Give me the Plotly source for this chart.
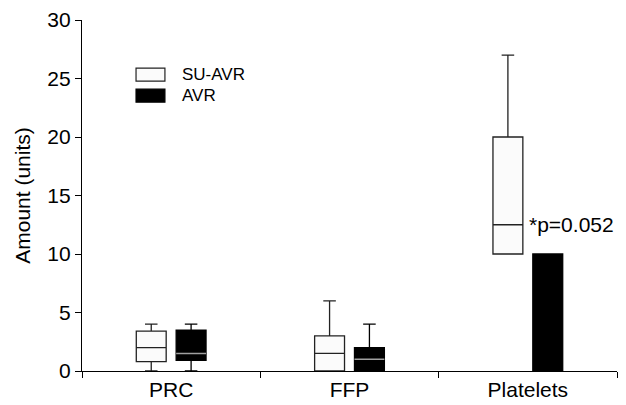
import plotly.graph_objects as go

categories = ["PRC", "FFP", "Platelets"]

# SU-AVR box statistics
su_low = [0, 0, 10]
su_q1 = [0.8, 0, 10]
su_med = [2, 1.5, 12.5]
su_q3 = [3.4, 3, 20]
su_up = [4, 6, 27]

# AVR box statistics
avr_low = [0, 0, 0]
avr_q1 = [0.9, 0, 0]
avr_med = [1.5, 1, 10]
avr_q3 = [3.5, 2, 10]
avr_up = [4, 4, 10]

y_ticks = [0, 5, 10, 15, 20, 25, 30]
p_text = "*p=0.052"

FONT = "Liberation Sans, Arial, sans-serif"

fig = go.Figure()

fig.add_trace(go.Box(
    name="SU-AVR", x=categories, q1=su_q1, median=su_med, q3=su_q3,
    lowerfence=su_low, upperfence=su_up, offsetgroup="su",
    fillcolor="#fbfbfb", line=dict(color="#222222", width=1.3),
    whiskerwidth=0.42, boxpoints=False, hoverinfo="skip", showlegend=False,
))
fig.add_trace(go.Box(
    name="AVR", x=categories, q1=avr_q1, median=avr_med, q3=avr_q3,
    lowerfence=avr_low, upperfence=avr_up, offsetgroup="avr",
    fillcolor="#000000", line=dict(color="#000000", width=1.3),
    whiskerwidth=0.42, boxpoints=False, hoverinfo="skip", showlegend=False,
))

# light median lines inside the black AVR boxes (only where median lies inside the box)
mc, mv = [], []
for c, a, m, b in zip(categories, avr_q1, avr_med, avr_q3):
    if a < m < b:
        mc.append(c)
        mv.append(m)
fig.add_trace(go.Box(
    name="AVR median", x=mc, q1=mv, median=mv, q3=mv, lowerfence=mv, upperfence=mv,
    offsetgroup="avr", fillcolor="rgba(0,0,0,0)", line=dict(color="#a0a0a0", width=1.6),
    whiskerwidth=0, boxpoints=False, hoverinfo="skip", showlegend=False,
))

# annotation at the SU-AVR platelets median
fig.add_annotation(x=categories[2], y=su_med[2], text=p_text, showarrow=False,
                   xanchor="left", yanchor="middle", xshift=-1,
                   font=dict(family=FONT, size=21, color="black"))

# manual legend
x0, x1 = 0.101, 0.155
fig.add_shape(type="rect", xref="paper", yref="paper", x0=x0, x1=x1, y0=0.826, y1=0.863,
              fillcolor="#fbfbfb", line=dict(color="#222222", width=1.2))
fig.add_shape(type="rect", xref="paper", yref="paper", x0=x0, x1=x1, y0=0.766, y1=0.803,
              fillcolor="#000000", line=dict(color="#000000", width=1.2))
fig.add_annotation(xref="paper", yref="paper", x=0.183, y=0.845, text="SU-AVR",
                   showarrow=False, xanchor="left", yanchor="middle",
                   font=dict(family=FONT, size=17, color="black"))
fig.add_annotation(xref="paper", yref="paper", x=0.183, y=0.785, text="AVR",
                   showarrow=False, xanchor="left", yanchor="middle",
                   font=dict(family=FONT, size=17, color="black"))

# the page body adds an 8px margin, so the figure is 8px smaller and top/left margins shifted
fig.update_layout(
    width=618, height=397,
    margin=dict(l=74, r=9, t=12, b=34),
    paper_bgcolor="white", plot_bgcolor="white",
    boxmode="group", boxgap=0.553, boxgroupgap=0.25,
    font=dict(family=FONT, size=21, color="black"),
    showlegend=False,
)
fig.update_xaxes(
    type="category", categoryorder="array", categoryarray=categories,
    range=[-0.5, 2.5], showline=True, linecolor="black", linewidth=1.3,
    ticks="outside", tickson="boundaries", ticklen=6, tickcolor="black", tickwidth=1.3,
    showgrid=False, zeroline=False, tickfont=dict(family=FONT, size=21),
    automargin=False,
)
fig.update_yaxes(
    range=[0, 30], tickvals=y_ticks, showline=True, linecolor="black", linewidth=1.3,
    ticks="outside", ticklen=6, tickcolor="black", tickwidth=1.3,
    showgrid=False, zeroline=False, tickfont=dict(family=FONT, size=21),
    title=dict(text="Amount (units)", font=dict(family=FONT, size=21), standoff=10),
    automargin=False,
)

fig.write_html("out.html")
